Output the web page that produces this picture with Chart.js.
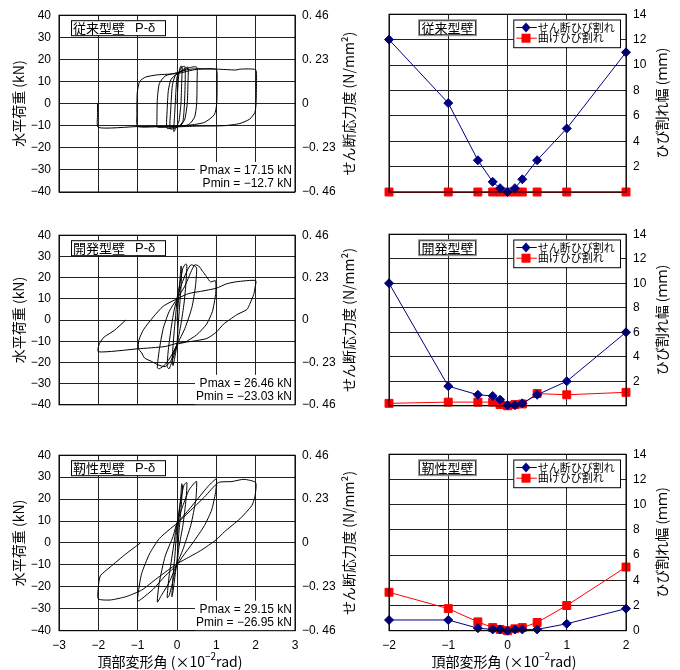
<!DOCTYPE html>
<html>
<head>
<meta charset="utf-8">
<script src="https://cdn.jsdelivr.net/npm/chart.js@4.4.0/dist/chart.umd.min.js"></script>
<style>
  body { margin: 0; background: #fff; }
  .panel { position: absolute; }
</style>
</head>
<body>
<div class="panel" style="left:0;top:0;width:360px;height:210px"><canvas id="loop1"></canvas></div>
<div class="panel" style="left:360px;top:0;width:320px;height:210px"><canvas id="crack1"></canvas></div>
<div class="panel" style="left:0;top:220px;width:360px;height:200px"><canvas id="loop2"></canvas></div>
<div class="panel" style="left:360px;top:220px;width:320px;height:200px"><canvas id="crack2"></canvas></div>
<div class="panel" style="left:0;top:440px;width:360px;height:230px"><canvas id="loop3"></canvas></div>
<div class="panel" style="left:360px;top:440px;width:320px;height:230px"><canvas id="crack3"></canvas></div>
<script>
// right-hand axis of the load panels (shear stress, N/mm2)
const stressTicks = [-0.46, -0.23, 0, 0.23, 0.46];

// drift angles (x10^-2 rad) at which crack widths were measured
const driftPoints = [-2, -1, -0.5, -0.25, -0.125, 0, 0.125, 0.25, 0.5, 1, 2];

// crack widths (mm)
const conventionalShear = [12, 7, 2.5, 0.8, 0.3, 0, 0.3, 1.0, 2.5, 5.0, 11.0];
const conventionalFlex = [0, 0, 0, 0, 0, 0, 0, 0, 0, 0, 0];
const developedShear = [10, 1.6, 0.9, 0.8, 0.5, 0.05, 0.05, 0.2, 0.9, 2.0, 6.0];
const developedFlex = [0.2, 0.3, 0.3, 0.3, 0.1, 0, 0.1, 0.15, 1.0, 0.9, 1.1];
const ductileShear = [0.85, 0.85, 0.2, 0.1, 0.1, 0, 0.1, 0.1, 0.1, 0.55, 1.75];
const ductileFlex = [3.05, 1.75, 0.7, 0.25, 0.1, 0, 0.15, 0.25, 0.65, 2.0, 5.05];

// load - drift paths [drift (x10^-2 rad), load (kN)]
const conventionalLoop = [
  [0,0],[0.03,10],[0.06,15],[0.1,17.1],[0.13,16.5],[0.12,10],[0.1,0],[0.05,-8],[0,-10],[-0.08,-12.7],[-0.06,-5],[-0.03,5],[0,12],[0.05,14],
  [0.12,16.5],[0.2,16.8],[0.21,12],[0.19,0],[0.15,-8],[0.05,-10.2],[-0.17,-11.5],[-0.16,-3],[-0.12,8],[-0.05,12.5],[0.05,14],
  [0.2,16],[0.28,16.5],[0.28,10],[0.26,0],[0.2,-7],[0.1,-9.8],[0,-10.3],[-0.25,-11.2],[-0.25,-3],[-0.22,6],[-0.15,11],[0,13.5],
  [0.3,16.2],[0.5,16.5],[0.51,10],[0.5,0],[0.45,-6],[0.3,-9.5],[0,-10.3],[-0.5,-10.6],[-0.51,-8],[-0.5,2],[-0.45,9],[-0.3,12.5],[0,14],[0.3,15.5],
  [0.7,15.8],[1.0,15.4],[1.02,10],[1.01,0],[0.95,-5],[0.7,-8.5],[0.3,-9.8],[0,-10.2],[-0.5,-10.4],[-1.0,-10.3],[-1.02,-5],[-1.01,5],[-0.95,10],[-0.8,12],[-0.5,13],[0,13.6],[0.5,15.5],
  [1,15.6],[1.5,15.2],[1.6,15.6],[2.0,15.3],[2.02,10],[2.01,0],[1.98,-4],[1.85,-7],[1.6,-9],[1.2,-10],[0.5,-10.2],[0,-10.5],[-1,-10.4],[-2.0,-10.8],[-2.02,-5],[-2.02,0]
];
const developedLoop = [
  [0,0],[0.04,10],[0.08,20],[0.1,25.5],[0.12,24],[0.1,15],[0.06,5],[0.02,-5],[0,-11.6],[-0.05,-17],[-0.1,-21.5],[-0.12,-20],[-0.1,-12],[-0.06,-3],[-0.02,5],[0,10],
  [0.08,18],[0.15,24.5],[0.22,26.46],[0.25,26],[0.23,18],[0.18,8],[0.1,-2],[0,-11.6],[-0.1,-18],[-0.2,-23.03],[-0.25,-22],[-0.22,-14],[-0.15,-4],[-0.08,4],[0,10],
  [0.12,17],[0.25,23],[0.35,26],[0.45,25.5],[0.5,24.5],[0.47,16],[0.38,6],[0.2,-4],[0,-11.6],[-0.15,-17],[-0.3,-21],[-0.45,-23],[-0.5,-22.5],[-0.45,-14],[-0.35,-4],[-0.2,4],[0,10],
  [0.2,16],[0.35,22.5],[0.45,26],[0.55,25.5],[0.65,23],[0.75,20.5],[0.85,18],[0.98,18.5],[0.98,12],[0.9,4],[0.75,-2],[0.5,-7],[0.2,-10.5],[0,-11.6],[-0.15,-19],[-0.3,-22],[-0.5,-21],[-0.65,-19.5],[-0.82,-18],[-0.9,-15.5],[-0.98,-13.5],[-0.97,-9.5],[-0.85,-4.5],[-0.6,1.5],[-0.35,6.5],[0,10],
  [0.3,12.5],[0.6,13.5],[1.0,15],[1.25,17],[1.5,18],[2.0,18.6],[1.98,15],[1.95,12],[1.86,8],[1.78,5],[1.52,2.5],[1.35,0.3],[1.18,-2],[1.0,-5.7],[0.76,-8.7],[0.4,-10],[0,-11],[-0.3,-12.5],[-1.0,-13.6],[-2.0,-15],[-1.97,-11],[-1.85,-8],[-1.6,-5],[-1.3,0]
];
const ductileLoop = [
  [0,0],[0.05,12],[0.1,22],[0.12,27],[0.14,26],[0.1,15],[0.05,5],[0,-8],[-0.05,-15],[-0.1,-22],[-0.13,-24.5],[-0.1,-15],[-0.05,-5],[0,8],
  [0.1,20],[0.18,26.5],[0.25,27.5],[0.23,20],[0.15,8],[0.05,-2],[0,-9],[-0.1,-17],[-0.2,-24],[-0.25,-25],[-0.2,-15],[-0.1,-3],[0,9],
  [0.15,17],[0.3,24],[0.45,27.5],[0.5,28],[0.48,20],[0.35,8],[0.15,-3],[0,-9.5],[-0.2,-18],[-0.4,-24],[-0.5,-26.95],[-0.45,-18],[-0.3,-6],[-0.1,3],[0,9],
  [0.2,13],[0.5,19.5],[0.8,26],[1.0,29.15],[0.98,23],[0.88,15],[0.7,8],[0.4,0],[0.15,-6],[0,-10],[-0.3,-15],[-0.6,-21],[-0.9,-25.5],[-1,-26.5],[-0.98,-22],[-0.9,-14],[-0.7,-5],[-0.45,2],[-0.2,6],[0,9],
  [0.3,14],[0.7,21],[1.05,27.5],[1.4,28],[1.7,29],[2.0,27.5],[1.98,21],[1.9,17],[1.6,11],[1.2,5],[1.0,1.5],[0.6,-3.5],[0.2,-7.5],[0,-9.5],[-0.5,-16],[-0.9,-21.5],[-1.3,-24.5],[-1.7,-26],[-2.0,-25.5],[-2.0,-20],[-1.95,-15],[-1.7,-11],[-1.3,-5],[-0.93,0]
];

const FONT = '"Liberation Sans", Arial, sans-serif';
const JFONT = '"Noto Sans CJK JP", sans-serif';

function minus(v) { return String(v).replace('-', '\u2212'); }
function stressLabel(v) {
  if (Math.abs(v) < 1e-9) return '0';
  return (v < 0 ? '\u2212' : '') + '0. ' + Math.round(Math.abs(v) * 100);
}

function vText(ctx, text, x, y, font) {
  ctx.save();
  ctx.translate(x, y);
  ctx.rotate(-Math.PI / 2);
  ctx.font = font;
  ctx.fillStyle = '#000';
  ctx.textAlign = 'center';
  ctx.textBaseline = 'middle';
  ctx.fillText(text, 0, 0);
  ctx.restore();
}

function xTitle(ctx, cx, y) {
  const parts = [['頂部変形角 (×10', '14px ' + JFONT, 0], ['\u22122', '10px ' + JFONT, -5], ['rad)', '14px ' + JFONT, 0]];
  ctx.save();
  ctx.fillStyle = '#000';
  ctx.textAlign = 'left';
  ctx.textBaseline = 'middle';
  let w = 0;
  parts.forEach(p => { ctx.font = p[1]; w += ctx.measureText(p[0]).width; });
  let x = cx - w / 2;
  parts.forEach(p => { ctx.font = p[1]; ctx.fillText(p[0], x, y + p[2]); x += ctx.measureText(p[0]).width; });
  ctx.restore();
}

function loopDecor(cfg) {
  return {
    id: 'loopDecor',
    afterDatasetsDraw(chart) {
      const { ctx, chartArea: a } = chart;
      const mid = (a.top + a.bottom) / 2;
      ctx.save();
      // Pmax / Pmin note
      ctx.fillStyle = '#fff';
      ctx.fillRect(a.right - 100, a.bottom - 30, 100, 30);
      ctx.fillStyle = '#000';
      ctx.font = '12px ' + FONT;
      ctx.textAlign = 'right';
      ctx.textBaseline = 'middle';
      ctx.fillText(cfg.pmax, a.right - 3, a.bottom - 21);
      ctx.fillText(cfg.pmin, a.right - 3, a.bottom - 8);
      // name box
      ctx.fillStyle = '#fff';
      ctx.fillRect(a.left + 12, a.top + 5, 94, 15);
      ctx.strokeStyle = '#000';
      ctx.lineWidth = 1;
      ctx.strokeRect(a.left + 12.5, a.top + 5.5, 94, 15);
      ctx.fillStyle = '#000';
      ctx.textAlign = 'left';
      ctx.font = '13px ' + JFONT;
      ctx.fillText(cfg.name, a.left + 14, a.top + 13);
      ctx.font = '13px ' + FONT;
      ctx.fillText('P-\u03b4', a.left + 76, a.top + 13);
      // frame
      ctx.strokeRect(a.left, a.top, a.right - a.left, a.bottom - a.top);
      ctx.restore();
      vText(ctx, '水平荷重 (kN)', 19, mid, '14px ' + JFONT);
      vText(ctx, 'せん断応力度 (N/mm²)', 349, mid, '14px ' + JFONT);
      if (cfg.showX) xTitle(ctx, 170, 221.5);
    }
  };
}

function crackDecor(cfg) {
  return {
    id: 'crackDecor',
    afterDatasetsDraw(chart) {
      const { ctx, chartArea: a } = chart;
      const mid = (a.top + a.bottom) / 2;
      ctx.save();
      // name box
      const bx = a.left + 30, by = a.top + 6;
      ctx.fillStyle = '#fff';
      ctx.fillRect(bx, by, 57, 15);
      ctx.strokeStyle = '#999';
      ctx.lineWidth = 1;
      ctx.strokeRect(bx - 0.5, by - 0.5, 58, 16);
      ctx.strokeStyle = '#333';
      ctx.strokeRect(bx + 0.5, by + 0.5, 56, 14);
      ctx.fillStyle = '#000';
      ctx.font = '13px ' + JFONT;
      ctx.textAlign = 'center';
      ctx.textBaseline = 'middle';
      ctx.fillText(cfg.name, bx + 28.5, by + 8);
      // legend box
      const lx = a.right - 112.7, ly = a.top + 5.3;
      ctx.fillStyle = '#fff';
      ctx.fillRect(lx, ly, 106.7, 27.7);
      ctx.strokeStyle = '#000';
      ctx.strokeRect(lx + 0.5, ly + 0.5, 106.7, 27.7);
      chart.data.datasets.forEach((ds, i) => {
        const yy = ly + 8 + i * 10.7;
        ctx.strokeStyle = ds.borderColor;
        ctx.lineWidth = 1;
        ctx.beginPath();
        ctx.moveTo(lx + 3, yy);
        ctx.lineTo(lx + 23.5, yy);
        ctx.stroke();
        ctx.fillStyle = ds.backgroundColor;
        ctx.beginPath();
        if (ds.pointStyle === 'rectRot') {
          ctx.moveTo(lx + 12.7, yy - 5);
          ctx.lineTo(lx + 17.2, yy);
          ctx.lineTo(lx + 12.7, yy + 5);
          ctx.lineTo(lx + 8.2, yy);
          ctx.closePath();
        } else {
          ctx.rect(lx + 8.2, yy - 4.5, 9, 9);
        }
        ctx.fill();
        ctx.fillStyle = '#000';
        ctx.font = '11px ' + JFONT;
        ctx.textAlign = 'left';
        ctx.fillText(ds.label, lx + 24.5, yy);
      });
      // frame
      ctx.strokeStyle = '#000';
      ctx.strokeRect(a.left, a.top, a.right - a.left, a.bottom - a.top);
      ctx.restore();
      vText(ctx, 'ひび割れ幅 (ｍｍ)', 302, mid, '14px ' + JFONT);
      if (cfg.showX) xTitle(ctx, 144, 221.5);
    }
  };
}

function tickFont() { return { family: FONT, size: 12 }; }

function loopChart(id, loop, cfg) {
  return new Chart(document.getElementById(id), {
    type: 'scatter',
    data: {
      datasets: [{
        data: loop.map(p => ({ x: p[0], y: p[1] })),
        showLine: true,
        borderColor: '#000',
        borderWidth: 1,
        pointRadius: 0,
        tension: 0.2
      }]
    },
    options: {
      responsive: true,
      maintainAspectRatio: false,
      animation: false,
      events: [],
      layout: { padding: { top: cfg.top, left: 0, right: 0, bottom: 0 } },
      plugins: { legend: { display: false }, tooltip: { enabled: false } },
      scales: {
        x: {
          type: 'linear', min: -3, max: 3,
          ticks: { stepSize: 1, display: cfg.showX, padding: 8, color: '#000', font: tickFont(), callback: v => minus(v) },
          grid: { color: '#222', drawTicks: false },
          border: { display: false },
          afterFit: s => { s.height = cfg.xh; }
        },
        y: {
          min: -40, max: 40,
          ticks: { stepSize: 10, padding: 8, color: '#000', font: tickFont(), callback: v => minus(v) },
          grid: { color: '#222', drawTicks: false },
          border: { display: false },
          afterFit: s => { s.width = 59; }
        },
        y2: {
          position: 'right', min: -0.46, max: 0.46,
          afterBuildTicks: s => { s.ticks = stressTicks.map(v => ({ value: v })); },
          ticks: { padding: 7, color: '#000', font: tickFont(), callback: v => stressLabel(v) },
          grid: { drawOnChartArea: false, drawTicks: false },
          border: { display: false },
          afterFit: s => { s.width = 65; }
        }
      }
    },
    plugins: [loopDecor(cfg)]
  });
}

function crackChart(id, shear, flex, cfg) {
  return new Chart(document.getElementById(id), {
    type: 'scatter',
    data: {
      datasets: [
        {
          label: 'せん断ひび割れ',
          data: driftPoints.map((x, i) => ({ x: x, y: shear[i] })),
          showLine: true, borderColor: '#000080', backgroundColor: '#000080', borderWidth: 1,
          pointStyle: 'rectRot', pointRadius: 4.5, clip: false
        },
        {
          label: '曲げひび割れ',
          data: driftPoints.map((x, i) => ({ x: x, y: flex[i] })),
          showLine: true, borderColor: '#ff0000', backgroundColor: '#ff0000', borderWidth: 1,
          pointStyle: 'rect', pointRadius: 5.6, clip: false
        }
      ]
    },
    options: {
      responsive: true,
      maintainAspectRatio: false,
      animation: false,
      events: [],
      layout: { padding: { top: cfg.top, left: 29, right: 0, bottom: 0 } },
      plugins: { legend: { display: false }, tooltip: { enabled: false } },
      scales: {
        x: {
          type: 'linear', min: -2, max: 2,
          ticks: { stepSize: 1, display: cfg.showX, padding: 8, color: '#000', font: tickFont(), callback: v => minus(v) },
          grid: { color: '#222', drawTicks: false },
          border: { display: false },
          afterFit: s => { s.height = cfg.xh; }
        },
        y: {
          position: 'right', min: 0, max: 14,
          ticks: { stepSize: 2, padding: 7, color: '#000', font: tickFont(), callback: v => (v === 0 && !cfg.showX) ? '' : v },
          grid: { color: '#222', drawTicks: false },
          border: { display: false },
          afterFit: s => { s.width = 54; }
        }
      }
    },
    plugins: [crackDecor(cfg)]
  });
}

loopChart('loop1', conventionalLoop, { name: '従来型壁', pmax: 'Pmax = 17.15 kN', pmin: 'Pmin = \u221212.7 kN', top: 13, xh: 18, showX: false });
loopChart('loop2', developedLoop, { name: '開発型壁', pmax: 'Pmax = 26.46 kN', pmin: 'Pmin = \u221223.03 kN', top: 13, xh: 8.3, showX: false });
loopChart('loop3', ductileLoop, { name: '靭性型壁', pmax: 'Pmax = 29.15 kN', pmin: 'Pmin = \u221226.95 kN', top: 12.7, xh: 39.3, showX: true });

crackChart('crack1', conventionalShear, conventionalFlex, { name: '従来型壁', top: 13, xh: 18, showX: false });
crackChart('crack2', developedShear, developedFlex, { name: '開発型壁', top: 13, xh: 8.3, showX: false });
crackChart('crack3', ductileShear, ductileFlex, { name: '靭性型壁', top: 12.7, xh: 39.3, showX: true });
</script>
</body>
</html>
